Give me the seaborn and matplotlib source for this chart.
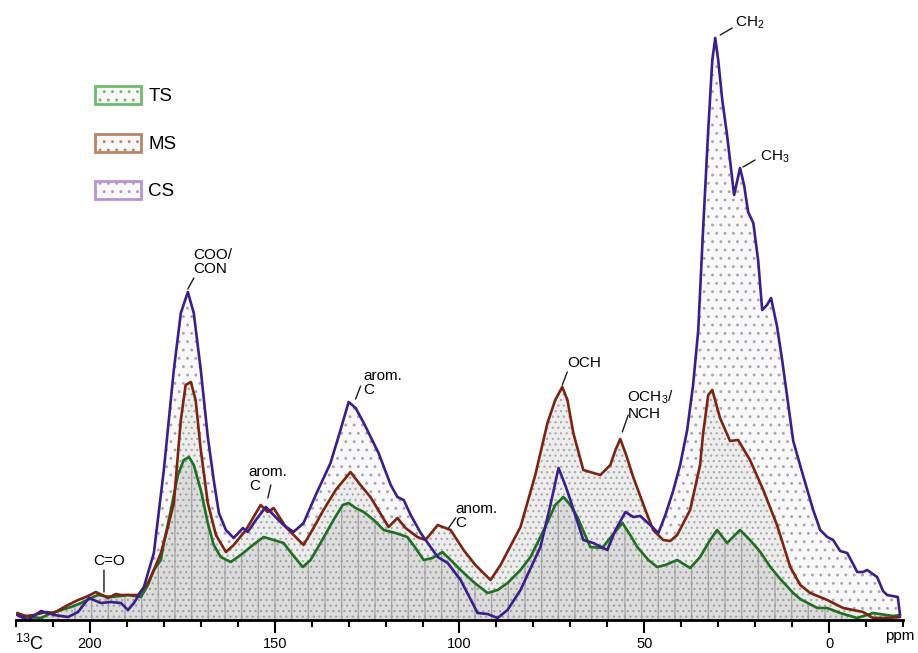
import numpy as np
import pandas as pd
import matplotlib
matplotlib.use("Agg")
import matplotlib.pyplot as plt
import seaborn as sns
from matplotlib.patches import Patch
from matplotlib.ticker import MultipleLocator

# 13C CP/MAS NMR spectra (chemical shift in ppm, intensity in arbitrary units)
cs_ppm = [219.7, 216.8, 213.2, 209.7, 205.9, 203.2, 200.3, 197.0, 194.3, 191.6, 189.7, 188.1,
          185.4, 182.7, 180.0, 177.3, 175.4, 173.5, 171.9, 170.0, 168.1, 166.5, 165.1, 163.2,
          161.1, 158.6, 157.3, 155.1, 152.4, 150.3, 147.6, 144.9, 142.2, 138.9, 134.9, 132.2,
          130.0, 128.1, 125.9, 121.9, 118.6, 116.8, 115.1, 113.2, 110.5, 105.9, 103.2, 99.7,
          95.1, 92.4, 89.7, 87.0, 83.5, 78.1, 75.4, 73.2, 71.4, 70.0, 66.5, 63.8, 60.0, 57.8,
          55.1, 53.0, 51.1, 48.4, 46.2, 44.3, 42.2, 40.3, 38.4, 36.8, 35.4, 34.1, 32.7, 31.6,
          30.8, 30.0, 28.9, 27.6, 25.7, 24.1, 23.0, 21.9, 20.5, 19.2, 18.1, 16.8, 15.7, 14.1,
          12.7, 11.4, 9.7, 7.0, 4.3, 2.4, 0.5, -1.1, -3.0, -4.9, -6.5, -7.6, -9.2, -10.3,
          -13.0, -14.6, -15.7, -18.6, -19.2]
cs_int = [5, 0, 9, 5, 3, 8, 22, 17, 18, 17, 10, 17,
          33, 67, 150, 250, 307, 328, 307, 250, 183, 140, 107, 90,
          82, 92, 88, 100, 113, 105, 95, 88, 97, 125, 157, 190,
          218, 212, 197, 167, 135, 123, 120, 105, 87, 63, 57, 40,
          7, 6, 2, 10, 30, 73, 115, 152, 135, 120, 80, 77, 70, 90,
          108, 103, 104, 95, 87, 105, 129, 155, 190, 235, 290, 390, 490, 560,
          582, 560, 520, 485, 425, 452, 435, 408, 397, 360, 310, 315, 322, 294,
          260, 225, 179, 144, 110, 90, 83, 80, 69, 67, 56, 48, 48, 50,
          43, 29, 25, 23, 5]

ms_ppm = [219.7, 217.3, 215.1, 211.9, 209.7, 206.5, 203.2, 200.5, 198.4, 195.1, 193.0, 191.6,
          188.9, 187.0, 184.3, 182.7, 180.8, 178.9, 177.3, 175.4, 174.1, 172.7, 171.4, 170.0,
          168.1, 165.9, 163.2, 161.1, 157.8, 153.8, 151.9, 150.3, 147.0, 142.2, 139.5, 136.8,
          133.5, 129.5, 126.8, 124.1, 119.2, 116.8, 114.6, 111.4, 109.2, 105.9, 102.4, 98.9,
          95.7, 91.6, 88.9, 83.5, 79.5, 76.2, 74.1, 72.2, 70.8, 69.2, 66.5, 61.9, 59.2, 57.8,
          56.5, 54.9, 53.0, 49.7, 47.6, 44.9, 43.0, 41.1, 37.6, 34.9, 34.1, 32.7, 31.6, 29.5,
          26.8, 24.6, 21.4, 17.8, 14.1, 10.5, 7.8, 5.1, 0.5, -3.8, -9.2, -11.9, -15.7, -19.2]
ms_int = [7, 4, 5, 8, 7, 14, 20, 24, 28, 22, 26, 25,
          25, 25, 37, 50, 67, 93, 117, 200, 235, 238, 220, 170,
          117, 85, 68, 75, 90, 115, 108, 112, 93, 75, 92, 110,
          130, 148, 135, 123, 93, 102, 92, 83, 80, 95, 90, 70,
          55, 40, 55, 93, 145, 197, 220, 233, 220, 187, 150, 145, 155, 170,
          181, 165, 143, 110, 90, 80, 79, 85, 110, 155, 186, 225, 230, 202,
          179, 180, 160, 130, 95, 53, 35, 27, 20, 12, 8, 2, 2, 3]

ts_ppm = [219.7, 216.5, 213.2, 210.5, 207.8, 205.1, 202.4, 199.7, 197.8, 194.3, 191.6, 189.7,
          186.2, 184.3, 182.7, 180.8, 180.0, 178.1, 176.2, 174.6, 173.2, 171.9, 170.0, 168.1,
          166.5, 164.6, 161.9, 159.2, 155.9, 153.0, 150.3, 147.6, 145.1, 142.4, 140.3, 137.6,
          134.1, 131.6, 130.0, 128.1, 125.9, 123.2, 120.5, 117.3, 114.1, 111.9, 109.7, 107.3,
          104.6, 102.4, 99.7, 96.2, 92.4, 89.7, 87.0, 83.5, 80.8, 76.8, 74.1, 71.9, 70.0, 68.1,
          64.6, 61.4, 58.6, 55.9, 53.8, 51.9, 48.9, 46.5, 44.3, 41.1, 37.6, 34.9, 32.2, 30.3,
          27.6, 24.1, 21.4, 18.6, 15.9, 13.2, 9.7, 7.8, 3.2, 0.5, -3.0, -7.6, -11.9, -17.3, -19.2]
ts_int = [5, 3, 2, 7, 10, 13, 17, 22, 25, 23, 24, 25,
          23, 35, 50, 60, 77, 110, 145, 160, 163, 155, 130, 97,
          75, 63, 58, 65, 75, 83, 80, 77, 65, 53, 60, 77,
          100, 115, 117, 112, 108, 100, 90, 87, 83, 72, 60, 62,
          68, 60, 50, 38, 27, 30, 37, 50, 63, 93, 115, 123, 115, 103,
          73, 72, 85, 97, 85, 73, 60, 53, 55, 60, 52, 63, 80, 90,
          77, 90, 80, 68, 53, 41, 27, 21, 12, 12, 7, 2, 7, 4, 5]

samples = ["TS", "MS", "CS"]
line_colors = {"TS": "#1f6e22", "MS": "#7b2412", "CS": "#3a1f8a"}
legend_edges = {"TS": "#6dbb6d", "MS": "#b88466", "CS": "#b594d6"}
# face colour, hatch colour, hatch pattern for each filled area
fill_styles = {"CS": ("#f8f8f9", "#aaa6b4", ".."),
               "MS": ("#ededed", "#ababab", "..."),
               "TS": ("#dcdcdc", "#a2a2a2", "|...")}

series = {"TS": (ts_ppm, ts_int), "MS": (ms_ppm, ms_int), "CS": (cs_ppm, cs_int)}
df = pd.concat([pd.DataFrame({"ppm": p, "intensity": v, "sample": s})
                for s, (p, v) in series.items()], ignore_index=True)

sns.set_theme(style="white")
plt.rcParams["font.family"] = ["Liberation Sans", "DejaVu Sans"]
plt.rcParams["hatch.linewidth"] = 0.9
plt.rcParams["text.color"] = "black"
plt.rcParams["xtick.color"] = "black"

fig = plt.figure(figsize=(9.18, 6.53), dpi=100)
ax = fig.add_axes([16 / 918, 33 / 653, 887 / 918, 620 / 653])

for s in ["CS", "MS", "TS"]:
    sub = df[df["sample"] == s]
    fc, hc, hatch = fill_styles[s]
    ax.fill_between(sub["ppm"], 0, sub["intensity"], facecolor=fc, edgecolor=hc,
                    hatch=hatch, linewidth=0, zorder=1)

sns.lineplot(data=df, x="ppm", y="intensity", hue="sample", hue_order=["TS", "MS", "CS"],
             palette=line_colors, estimator=None, sort=False, linewidth=1.9,
             legend=False, ax=ax, zorder=3)

ax.set_xlim(220, -20)
ax.set_ylim(0, 620)
ax.set_xlabel("")
ax.set_ylabel("")
ax.set_yticks([])
for side in ["left", "top", "right"]:
    ax.spines[side].set_visible(False)
ax.spines["bottom"].set_linewidth(2.0)
ax.spines["bottom"].set_color("black")
ax.spines["bottom"].set_zorder(5)
ax.xaxis.set_major_locator(MultipleLocator(50))
ax.xaxis.set_minor_locator(MultipleLocator(10))
ax.tick_params(axis="x", which="both", bottom=True, direction="out", color="black", width=1.5)
ax.tick_params(axis="x", which="major", length=9.5, pad=3, labelsize=10.5, labelcolor="black")
ax.tick_params(axis="x", which="minor", length=5)

fig.text(15 / 918, 1 - 650 / 653, r"$\mathregular{^{13}}$C", fontsize=13, va="baseline")
fig.text(885 / 918, 1 - 640 / 653, "ppm", fontsize=11, va="baseline")

# peak assignments: label, series, anchor ppm, leader start/end and text offsets (pixels)
labels = ["C=O", "COO/\nCON", "arom.\nC", "arom.\nC", "anom.\nC", "OCH",
          r"OCH$\mathregular{_3}$/" + "\nNCH", r"CH$\mathregular{_2}$", r"CH$\mathregular{_3}$"]
label_series = ["MS", "CS", "CS", "CS", "MS", "MS", "MS", "CS", "CS"]
label_ppm = [196.2, 173.5, 152.4, 130.0, 103.2, 72.2, 56.5, 30.8, 24.1]
lead_start = [(0, 4), (0, 3), (2, 9), (7, 3), (1, 1), (0, 2), (2, 7), (5, 3), (3, 1)]
lead_end = [(0, 26), (6, 14), (5, 22), (12, 16), (8, 11), (5, 15), (8, 24), (17, 10), (15, 8)]
text_off = [(5, 35), (5, 30), (-17, 28), (15, 19), (8, 13), (5, 24), (7, 34), (20, 15), (20, 11)]
text_ha = ["center", "left", "left", "left", "left", "left", "left", "left", "left"]

for lab, s, p, a, b, t, ha in zip(labels, label_series, label_ppm, lead_start, lead_end,
                                  text_off, text_ha):
    xp, yp = series[s]
    y = np.interp(p, xp[::-1], yp[::-1])
    x0, y0 = ax.transData.transform((p, y))
    ax.annotate("", xy=(x0 + a[0], y0 + a[1]), xycoords="figure pixels",
                xytext=(x0 + b[0], y0 + b[1]), textcoords="figure pixels",
                arrowprops=dict(arrowstyle="-", lw=1.0, color="#1a1a1a", shrinkA=0, shrinkB=0),
                zorder=6)
    ax.annotate(lab, xy=(x0 + t[0], y0 + t[1]), xycoords="figure pixels",
                ha=ha, va="center", fontsize=11, color="black", linespacing=1.05, zorder=6)

handles = [Patch(facecolor="#f8f8f8", edgecolor=legend_edges[s], hatch="..", linewidth=2)
           for s in samples]
leg = ax.legend(handles, samples, loc="upper left", bbox_to_anchor=(95 / 918, 1 - 86 / 653),
                bbox_transform=fig.transFigure, frameon=False, fontsize=13.5, handlelength=2.45,
                handleheight=1.1, handletextpad=0.4, labelspacing=1.5, borderpad=0,
                borderaxespad=0)
for txt in leg.get_texts():
    txt.set_color("black")

fig.savefig("out.png", dpi=100)
